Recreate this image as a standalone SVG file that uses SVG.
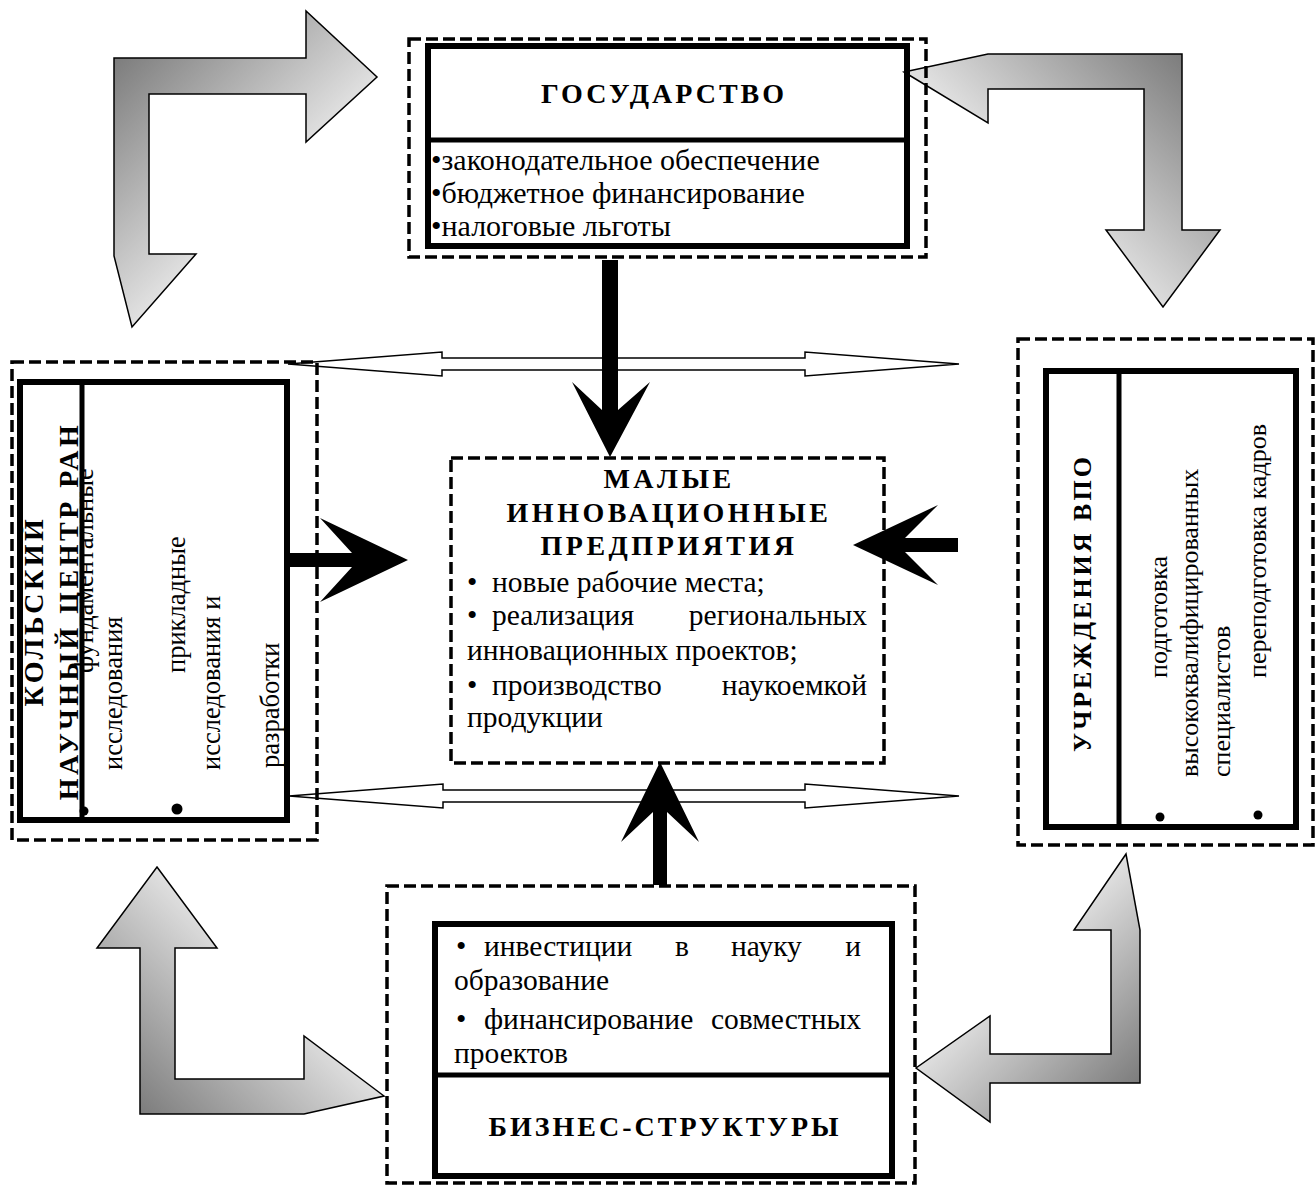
<svg xmlns="http://www.w3.org/2000/svg" width="1316" height="1187" viewBox="0 0 1316 1187">
<style>
.dash{fill:none;stroke:#000;stroke-width:3.5;stroke-dasharray:12 5}
.box{fill:none;stroke:#000;stroke-width:6}
.dv{stroke:#000;stroke-width:5}
.t{font-family:"Liberation Serif","Times New Roman",serif;font-size:30px;fill:#000}
.tc{font-family:"Liberation Serif","Times New Roman",serif;font-size:29.5px;fill:#000}
.tv{font-family:"Liberation Serif","Times New Roman",serif;font-size:26.5px;fill:#000}
.h{font-family:"Liberation Serif","Times New Roman",serif;font-weight:bold;font-size:28px;letter-spacing:3px;fill:#000}
.hc{font-family:"Liberation Serif","Times New Roman",serif;font-weight:bold;font-size:28px;letter-spacing:3.5px;fill:#000}
.bent{stroke:#000;stroke-width:1.5;stroke-linejoin:miter}
.dbl{fill:#fff;stroke:#000;stroke-width:1.5}
.thick{fill:#000;stroke:none}
</style>
<defs>
<linearGradient id="gTL" gradientUnits="userSpaceOnUse" x1="114" y1="58" x2="255" y2="199"><stop offset="0" stop-color="#7c7c7c"/><stop offset="1" stop-color="#e0e0e0"/></linearGradient>
<linearGradient id="gTR" gradientUnits="userSpaceOnUse" x1="1182" y1="54" x2="1041" y2="195"><stop offset="0" stop-color="#7c7c7c"/><stop offset="1" stop-color="#e0e0e0"/></linearGradient>
<linearGradient id="gBL" gradientUnits="userSpaceOnUse" x1="140" y1="1114" x2="271" y2="983"><stop offset="0" stop-color="#7c7c7c"/><stop offset="1" stop-color="#e0e0e0"/></linearGradient>
<linearGradient id="gBR" gradientUnits="userSpaceOnUse" x1="1140" y1="1083" x2="1020" y2="963"><stop offset="0" stop-color="#7c7c7c"/><stop offset="1" stop-color="#e0e0e0"/></linearGradient>
</defs>
<rect width="1316" height="1187" fill="#fff"/>

<g id="connectors">
  <polygon class="bent" fill="url(#gTL)" points="114,58 306,58 306,11 377,77 306,142 306,94 149,94 149,254 196,254 132,327 114,256"/>
  <polygon class="bent" fill="url(#gTR)" points="904,72 988,54 1182,54 1182,230 1220,230 1163,307 1106,230 1144,230 1144,89 988,89 988,123"/>
  <polygon class="bent" fill="url(#gBL)" points="157,867 217,948 175,948 175,1079 304,1079 304,1036 384,1096 304,1114 140,1114 140,948 97,948"/>
  <polygon class="bent" fill="url(#gBR)" points="1126,854 1140,930 1140,1083 990,1083 990,1122 916,1068 990,1016 990,1054 1111,1054 1111,930 1074,930"/>
  <polygon class="dbl" points="288,364 442,352 442,358 805,358 805,352 959,364 805,376 805,370 442,370 442,376"/>
  <polygon class="dbl" points="289,796 443,784 443,790 805,790 805,784 959,796 805,808 805,802 443,802 443,808"/>
  <polygon class="thick" points="602,260 618,260 618,410 650,382 610,457 572,382 602,410"/>
  <polygon class="thick" points="653,885 653,812 621,842 660,762 699,842 667,812 667,885"/>
  <polygon class="thick" points="287,553 352,553 320,518 408,560 320,602 352,567 287,567"/>
  <polygon class="thick" points="958,538 905,538 938,505 853,545 938,585 905,552 958,552"/>
</g>

<g id="gosudarstvo">
  <rect class="dash" x="409" y="39" width="517" height="218"/>
  <rect class="box" x="428" y="46" width="479" height="200"/>
  <line class="dv" x1="428" y1="140" x2="907" y2="140"/>
  <text class="h" x="664" y="103" text-anchor="middle">ГОСУДАРСТВО</text>
  <text class="t" x="431" y="170">•законодательное обеспечение</text>
  <text class="t" x="431" y="203">•бюджетное финансирование</text>
  <text class="t" x="431" y="236">•налоговые льготы</text>
</g>

<g id="malye">
  <rect class="dash" x="451" y="458" width="433" height="305"/>
  <text class="hc" x="669" y="488" text-anchor="middle">МАЛЫЕ</text>
  <text class="hc" x="669" y="522" text-anchor="middle">ИННОВАЦИОННЫЕ</text>
  <text class="hc" x="669" y="555" text-anchor="middle">ПРЕДПРИЯТИЯ</text>
  <text class="tc" x="467" y="592">•</text>
  <text class="tc" x="492" y="592">новые рабочие места;</text>
  <text class="tc" x="467" y="625">•</text>
  <text class="tc" x="492" y="625">реализация</text>
  <text class="tc" x="867" y="625" text-anchor="end">региональных</text>
  <text class="tc" x="467" y="660">инновационных проектов;</text>
  <text class="tc" x="467" y="695">•</text>
  <text class="tc" x="492" y="695">производство</text>
  <text class="tc" x="867" y="695" text-anchor="end">наукоемкой</text>
  <text class="tc" x="467" y="727">продукции</text>
</g>

<g id="kolsky">
  <rect class="dash" x="12" y="362" width="305" height="478"/>
  <circle cx="84" cy="811" r="4.5"/>
  <circle cx="177" cy="809" r="5.5"/>
  <text class="tv" transform="translate(93,673) rotate(-90)">фундаментальные</text>
  <text class="tv" transform="translate(122,770) rotate(-90)">исследования</text>
  <text class="tv" transform="translate(185,673) rotate(-90)">прикладные</text>
  <text class="tv" transform="translate(220,770) rotate(-90)">исследования и</text>
  <text class="tv" transform="translate(279,768) rotate(-90)">разработки</text>
  <text class="hc" transform="translate(43,611) rotate(-90)" text-anchor="middle">КОЛЬСКИЙ</text>
  <text class="hc" transform="translate(78,611) rotate(-90)" text-anchor="middle">НАУЧНЫЙ ЦЕНТР РАН</text>
  <rect class="box" x="20" y="382" width="267" height="438"/>
  <line class="dv" x1="82" y1="382" x2="82" y2="820"/>
</g>

<g id="vpo">
  <rect class="dash" x="1018" y="339" width="295" height="506"/>
  <rect class="box" x="1046" y="371" width="250" height="456"/>
  <line class="dv" x1="1119" y1="371" x2="1119" y2="827"/>
  <text class="h" transform="translate(1091,603) rotate(-90)" text-anchor="middle" style="font-size:26px">УЧРЕЖДЕНИЯ ВПО</text>
  <circle cx="1160" cy="817" r="4.5"/>
  <circle cx="1258" cy="815" r="4.5"/>
  <text class="tv" style="font-size:26px" transform="translate(1167,678) rotate(-90)">подготовка</text>
  <text class="tv" style="font-size:26px" transform="translate(1198,777) rotate(-90)">высококвалифицированных</text>
  <text class="tv" style="font-size:26px" transform="translate(1230,777) rotate(-90)">специалистов</text>
  <text class="tv" style="font-size:26px" transform="translate(1266,678) rotate(-90)">переподготовка кадров</text>
</g>

<g id="biznes">
  <rect class="dash" x="387" y="886" width="528" height="297"/>
  <rect class="box" x="435" y="924" width="457" height="252"/>
  <line class="dv" x1="435" y1="1075" x2="892" y2="1075"/>
  <text class="tc" x="456" y="956">•</text>
  <text class="tc" x="484" y="956">инвестиции</text>
  <text class="tc" x="675" y="956">в</text>
  <text class="tc" x="731" y="956">науку</text>
  <text class="tc" x="861" y="956" text-anchor="end">и</text>
  <text class="tc" x="454" y="990">образование</text>
  <text class="tc" x="456" y="1029">•</text>
  <text class="tc" x="484" y="1029">финансирование</text>
  <text class="tc" x="861" y="1029" text-anchor="end">совместных</text>
  <text class="tc" x="454" y="1063">проектов</text>
  <text class="h" x="665" y="1136" text-anchor="middle">БИЗНЕС-СТРУКТУРЫ</text>
</g>
</svg>
